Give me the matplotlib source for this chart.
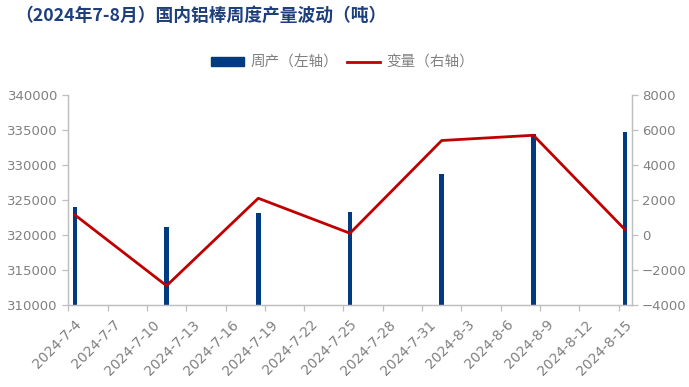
import numpy as np
import pandas as pd
import matplotlib
matplotlib.use("Agg")
import matplotlib.pyplot as plt
import matplotlib.dates as mdates
import matplotlib.transforms as mtransforms
from matplotlib.patches import Patch
from matplotlib.lines import Line2D

plt.rcParams['font.family'] = ['Noto Sans CJK SC', 'DejaVu Sans']

# data
dates = pd.to_datetime(['2024-07-04', '2024-07-11', '2024-07-18', '2024-07-25',
                        '2024-08-01', '2024-08-08', '2024-08-15'])
weekly_output = [324000, 321100, 323200, 323300, 328700, 334400, 334700]
change = [1150, -2900, 2100, 100, 5400, 5700, 300]
tick_dates = pd.date_range('2024-07-04', '2024-08-15', freq='3D')

title = '（2024年7-8月）国内铝棒周度产量波动（吨）'
bar_label = '周产（左轴）'
line_label = '变量（右轴）'

bar_color = '#003A80'
line_color = '#C00000'
grey = '#808080'
axis_grey = '#BFBFBF'

fig = plt.figure(figsize=(6.89, 3.87), dpi=100)
ax = fig.add_axes([0.0991, 0.2119, 0.8177, 0.5426])
ax2 = ax.twinx()

# points sit in the middle of their day (Excel date axis)
x = mdates.date2num(dates) + 0.5
ax.bar(x, weekly_output, width=0.35, color=bar_color, zorder=2)
ax2.plot(x, change, color=line_color, lw=2.0, zorder=3)

ax.set_xlim(mdates.date2num(pd.Timestamp('2024-07-04')),
            mdates.date2num(pd.Timestamp('2024-08-16')))
ax.set_ylim(310000, 340000)
ax.set_yticks(np.arange(310000, 340001, 5000))
ax2.set_ylim(-4000, 8000)
ax2.set_yticks(np.arange(-4000, 8001, 2000))

ax.set_xticks(mdates.date2num(tick_dates))
ax.set_xticklabels([f'{d.year}-{d.month}-{d.day}' for d in tick_dates],
                   rotation=45, ha='right', rotation_mode='anchor')

for a in (ax, ax2):
    a.spines['top'].set_visible(False)
    for s in ('left', 'right', 'bottom'):
        a.spines[s].set_color(axis_grey)
        a.spines[s].set_linewidth(0.9)
    a.tick_params(colors=axis_grey, labelcolor=grey, labelsize=9.5,
                  length=4, width=0.9)
ax.tick_params(axis='x', pad=5)
shift = mtransforms.ScaledTranslation(6 / 100, 0, fig.dpi_scale_trans)
for lab in ax.get_xticklabels():
    lab.set_transform(lab.get_transform() + shift)
    lab.set_fontsize(10)
for lab in ax.get_xticklabels() + ax.get_yticklabels() + ax2.get_yticklabels():
    lab.set_family(['DejaVu Sans'])

fig.text(0.022, 0.958, title, fontsize=12.8, fontweight='bold', color='#1F3E7C',
         va='center', ha='left')

handles = [Patch(facecolor=bar_color, edgecolor=bar_color),
           Line2D([0], [0], color=line_color, lw=2.0)]
fig.legend(handles, [bar_label, line_label], loc='center', ncol=2,
           bbox_to_anchor=(0.497, 0.838), frameon=False, fontsize=10.5,
           labelcolor=grey, handlelength=2.3, handleheight=0.5,
           handletextpad=0.4, columnspacing=0.6)

fig.savefig('out.png', dpi=100)
